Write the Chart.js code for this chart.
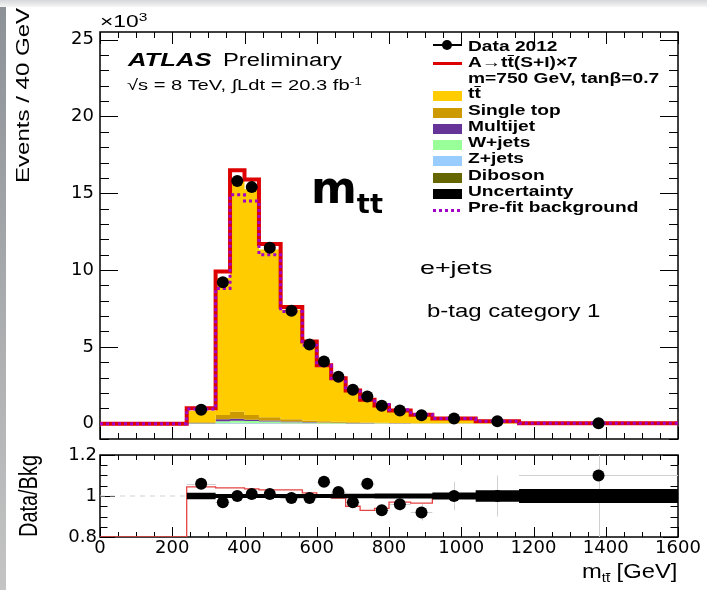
<!DOCTYPE html>
<html>
<head>
<meta charset="utf-8">
<title>m_tt, e+jets, b-tag category 1</title>
<script src="https://cdn.jsdelivr.net/npm/chart.js@4.4.1/dist/chart.umd.min.js"></script>
<style>
  html, body { margin: 0; padding: 0; }
  body { width: 707px; height: 590px; overflow: hidden; background: #fff; position: relative;
         font-family: "Liberation Sans", Arial, sans-serif; color: #000; }
  .edge-l { position: absolute; left: 0; top: 0; width: 6px; height: 590px; background: linear-gradient(#8c9196, #c4c4c4); }
  .edge-t { position: absolute; left: 0; top: 0; width: 707px; height: 7px; background: linear-gradient(#d5d8db, #f6f6f6); }
  canvas { position: absolute; left: 0; }
  #mainChart { top: 0; }
  #ratioChart { top: 445px; }
  .t { position: absolute; white-space: nowrap; line-height: 1; transform-origin: 0 0; }
  .ov { display: inline-block; border-top: 1.5px solid currentColor; line-height: 0.8; }
  sup { font-size: 0.68em; vertical-align: 0.5em; line-height: 0; }
  sub { font-size: 0.62em; vertical-align: -0.35em; line-height: 0; }
  .sym { position: absolute; }
  .box { position: absolute; left: 433px; width: 29px; height: 10px; }
</style>
</head>
<body>
<div class="edge-l"></div><div class="edge-t"></div>
<canvas id="mainChart" width="707" height="445"></canvas>
<canvas id="ratioChart" width="707" height="145"></canvas>

<!-- axis titles and labels -->
<div class="t" style="left:100px; top:12.6px; font-size:17px" data-w="47">×10<sup>3</sup></div>
<div class="t" style="left:14px; top:183px; font-size:18px" data-w="175" data-rot="1">Events / 40 GeV</div>
<div class="t" style="left:14.6px; top:537px; font-size:26px" data-w="82" data-rot="1">Data/Bkg</div>
<div class="t" style="left:582px; top:561px; font-size:20px" data-w="95">m<sub>t<span class="ov">t</span></sub> [GeV]</div>

<div class="t" style="left:128px; top:50.8px; font-size:18px; font-weight:bold; font-style:italic" data-w="84">ATLAS</div>
<div class="t" style="left:223px; top:50.8px; font-size:18px" data-w="119">Preliminary</div>
<div class="t" style="left:127px; top:77.3px; font-size:15px" data-w="235">√s = 8 TeV, ∫Ldt = 20.3 fb<sup>-1</sup></div>

<div class="t" style="left:311px; top:166px; font-size:44px; font-weight:bold; font-family:'DejaVu Sans'" data-w="72">m<sub>tt</sub></div>
<div class="t" style="left:420px; top:258px; font-size:19px" data-w="72">e+jets</div>
<div class="t" style="left:427px; top:301px; font-size:19px" data-w="173">b-tag category 1</div>

<!-- legend symbols -->
<div class="sym" style="left:433px; top:44px; width:29px; height:1.5px; background:#000"></div>
<div class="sym" style="left:442px; top:40px; width:10px; height:10px; border-radius:50%; background:#000"></div>
<div class="sym" style="left:433px; top:61.5px; width:29px; height:3px; background:#dd0000"></div>
<div class="box" style="top:91px; background:#ffcc00"></div>
<div class="box" style="top:107.5px; background:#cc9900"></div>
<div class="box" style="top:124px; background:#663399"></div>
<div class="box" style="top:140px; background:#99ff99"></div>
<div class="box" style="top:156px; background:#99ccff"></div>
<div class="box" style="top:172.5px; background:#666600"></div>
<div class="box" style="top:189px; background:#000"></div>
<div class="sym" style="left:433px; top:208.5px; width:29px; height:3px; background:repeating-linear-gradient(90deg, #a300c8 0 3px, transparent 3px 6px)"></div>

<!-- legend text -->
<div id="legendText" class="t" style="left:468px; top:0; font-size:15px; font-weight:bold">
  <div class="t" style="top:38.3px">Data 2012</div>
  <div class="t" style="top:53.8px">A→t<span class="ov">t</span>(S+I)×7</div>
  <div class="t" style="top:70.3px">m=750 GeV, tanβ=0.7</div>
  <div class="t" style="top:85.3px">t<span class="ov">t</span></div>
  <div class="t" style="top:101.8px">Single top</div>
  <div class="t" style="top:118.3px">Multijet</div>
  <div class="t" style="top:134.3px">W+jets</div>
  <div class="t" style="top:150.3px">Z+jets</div>
  <div class="t" style="top:166.8px">Diboson</div>
  <div class="t" style="top:183.3px">Uncertainty</div>
  <div class="t" id="prefitLabel" style="top:199.3px">Pre-fit background</div>
</div>

<script>
// bin edges in GeV (variable width), values in units of 10^3 events / 40 GeV
const binEdges = [240, 320, 360, 400, 440, 500, 560, 600, 640, 680, 720, 760, 800, 860, 920, 1040, 1160, 1600];
const dataVals = [0.9, 9.2, 15.8, 15.4, 11.45, 7.35, 5.15, 4.05, 3.05, 2.2, 1.77, 1.17, 0.85, 0.55, 0.33, 0.15, 0.03];
const ttbar = [0.75, 8.92, 15.03, 14.7, 10.92, 7.13, 5.0, 3.64, 2.87, 2.18, 1.6, 1.2, 0.85, 0.57, 0.31, 0.14, 0.025];
const singleTop = [0.05, 0.28, 0.45, 0.3, 0.22, 0.15, 0.1, 0.08, 0.06, 0.05, 0.04, 0.03, 0.02, 0.015, 0.01, 0.005, 0.001];
const multijet = [0.02, 0.12, 0.13, 0.09, 0.06, 0.04, 0.03, 0.02, 0.015, 0.01, 0.008, 0.006, 0.004, 0.003, 0.002, 0.001, 0.0002];
const wjets = [0.02, 0.12, 0.14, 0.12, 0.1, 0.07, 0.05, 0.04, 0.03, 0.025, 0.02, 0.015, 0.01, 0.008, 0.005, 0.003, 0.0006];
const zjets = [0.005, 0.03, 0.04, 0.035, 0.03, 0.02, 0.015, 0.01, 0.008, 0.006, 0.005, 0.004, 0.003, 0.002, 0.001, 0.0006, 0.0001];
const diboson = [0.002, 0.01, 0.01, 0.01, 0.008, 0.006, 0.004, 0.003, 0.003, 0.002, 0.002, 0.001, 0.001, 0.001, 0.0005, 0.0003, 0.0001];
const signalPlusBkg = [1.0, 9.9, 16.5, 15.9, 11.7, 7.6, 5.35, 3.8, 2.95, 2.15, 1.55, 1.18, 0.86, 0.58, 0.33, 0.15, 0.027];
const prefitBkg = [0.95, 8.8, 14.9, 14.5, 11.0, 7.3, 5.1, 3.8, 2.95, 2.2, 1.6, 1.25, 0.9, 0.6, 0.33, 0.15, 0.03];

// ratio panel
const ratioVals = [1.06, 0.97, 1.0, 1.01, 1.01, 0.99, 0.99, 1.07, 1.02, 0.97, 1.06, 0.93, 0.96, 0.92, 1.0, 1.0, 1.1];
const ratioErr = [0.03, 0.01, 0.008, 0.008, 0.009, 0.011, 0.013, 0.015, 0.018, 0.02, 0.024, 0.028, 0.033, 0.04, 0.07, 0.1, 0.35];
const ratioSignal = [1.045, 1.04, 1.04, 1.035, 1.03, 1.03, 1.015, 1.0, 0.99, 0.95, 0.93, 0.94, 0.97, 0.965, 1.0, 1.0, 1.0];
const uncHalf = [0.016, 0.01, 0.01, 0.01, 0.01, 0.01, 0.01, 0.01, 0.011, 0.011, 0.011, 0.012, 0.012, 0.012, 0.017, 0.028, 0.034];

const xTicks = [0, 200, 400, 600, 800, 1000, 1200, 1400, 1600];
const yMainTicks = [0, 5, 10, 15, 20, 25];
const yRatioTicks = [0.8, 1, 1.2];

const binCenters = binEdges.slice(0, -1).map((e, i) => (e + binEdges[i + 1]) / 2);

// histogram outline as {x,y} points; optional lead value from the axis start to the first edge
function steps(vals, lead) {
  const pts = [];
  if (lead !== undefined) {
    pts.push({ x: xTicks[0], y: lead });
    pts.push({ x: binEdges[0], y: lead });
  }
  vals.forEach((v, i) => {
    pts.push({ x: binEdges[i], y: v });
    pts.push({ x: binEdges[i + 1], y: v });
  });
  return pts;
}

// keep the plot frame exactly where the layout padding puts it
function noPad(s) {
  s.paddingTop = 0; s.paddingBottom = 0; s.paddingLeft = 0; s.paddingRight = 0;
}

// frame with ROOT style inward ticks on all four sides
const frameTicks = {
  id: 'frameTicks',
  beforeDatasetsDraw(chart, args, o) {
    const { ctx, chartArea: a, scales: { x, y } } = chart;
    ctx.save();
    ctx.strokeStyle = '#000';
    ctx.lineWidth = 1;
    ctx.beginPath();
    const eps = 1e-6;
    for (let n = Math.ceil(x.min / o.xMinor - eps); n <= Math.floor(x.max / o.xMinor + eps); n++) {
      const v = n * o.xMinor;
      const major = Math.abs(v / o.xMajor - Math.round(v / o.xMajor)) < eps;
      const len = major ? o.xLen : o.xLen / 2;
      const px = Math.round(x.getPixelForValue(v)) + 0.5;
      ctx.moveTo(px, a.bottom); ctx.lineTo(px, a.bottom - len);
      ctx.moveTo(px, a.top); ctx.lineTo(px, a.top + len);
    }
    for (let n = Math.ceil(y.min / o.yMinor - eps); n <= Math.floor(y.max / o.yMinor + eps); n++) {
      const v = n * o.yMinor;
      const major = Math.abs(v / o.yMajor - Math.round(v / o.yMajor)) < eps;
      const len = major ? o.yLen : o.yLen / 2;
      const py = Math.round(y.getPixelForValue(v)) + 0.5;
      ctx.moveTo(a.left, py); ctx.lineTo(a.left + len, py);
      ctx.moveTo(a.right, py); ctx.lineTo(a.right - len, py);
    }
    ctx.stroke();
    ctx.lineWidth = 1.5;
    ctx.strokeRect(a.left, a.top, a.width, a.height);
    ctx.restore();
  }
};
Chart.register(frameTicks);

Chart.defaults.font.family = "'DejaVu Sans', sans-serif";
Chart.defaults.font.size = 18;
Chart.defaults.color = '#000';

// stacked backgrounds, bottom to top
const stackParts = [
  { label: 'Diboson', vals: diboson, color: '#666600' },
  { label: 'Z+jets', vals: zjets, color: '#99ccff' },
  { label: 'W+jets', vals: wjets, color: '#99ff99' },
  { label: 'Multijet', vals: multijet, color: '#663399' },
  { label: 'Single top', vals: singleTop, color: '#cc9900' },
  { label: 'ttbar', vals: ttbar, color: '#ffcc00' }
];
let running = ttbar.map(() => 0);
const stackSets = stackParts.map((p, k) => {
  running = running.map((r, i) => r + p.vals[i]);
  return {
    label: p.label,
    data: steps(running),
    borderWidth: 0,
    backgroundColor: p.color,
    fill: k === 0 ? 'origin' : '-1',
    pointRadius: 0,
    order: 20 - k
  };
});

new Chart(document.getElementById('mainChart'), {
  type: 'line',
  data: {
    datasets: [
      ...stackSets,
      {
        label: 'A->tt(S+I)x7',
        data: steps(signalPlusBkg, 0),
        borderColor: '#dd0000',
        borderWidth: 4,
        pointRadius: 0,
        fill: false,
        order: 3
      },
      {
        label: 'Pre-fit background',
        data: steps(prefitBkg, 0),
        borderColor: '#a300c8',
        borderWidth: 3,
        borderDash: [3, 3],
        pointRadius: 0,
        fill: false,
        order: 2
      },
      {
        label: 'Data 2012',
        data: binCenters.map((c, i) => ({ x: c, y: dataVals[i] })),
        showLine: false,
        pointRadius: 6,
        pointBackgroundColor: '#000',
        pointBorderWidth: 0,
        order: 1
      }
    ]
  },
  options: {
    responsive: false,
    animation: false,
    devicePixelRatio: 1,
    events: [],
    layout: { padding: { left: 0, right: 29, top: 32, bottom: 5 } },
    plugins: {
      legend: { display: false },
      tooltip: { enabled: false },
      frameTicks: { xMajor: 200, xMinor: 50, xLen: 12, yMajor: 5, yMinor: 1, yLen: 18 }
    },
    scales: {
      x: { type: 'linear', display: false, min: xTicks[0], max: xTicks[xTicks.length - 1] },
      y: {
        min: -1,
        max: 25.5,
        afterFit(s) { s.width = 100; noPad(s); },
        afterBuildTicks(s) { s.ticks = yMainTicks.map(v => ({ value: v })); },
        grid: { display: false, drawTicks: false },
        border: { display: false },
        ticks: { padding: 6, callback: v => String(v) }
      }
    }
  }
});

// light grey error bars and the unity line in the ratio panel
const ratioExtras = {
  id: 'ratioExtras',
  beforeDatasetsDraw(chart) {
    const { ctx, chartArea: a, scales: { x, y } } = chart;
    ctx.save();
    ctx.beginPath();
    ctx.rect(a.left, a.top, a.width, a.height);
    ctx.clip();
    ctx.strokeStyle = '#d0d0d0';
    ctx.lineWidth = 1;
    ctx.setLineDash([5, 5]);
    ctx.beginPath();
    ctx.moveTo(a.left, y.getPixelForValue(1));
    ctx.lineTo(a.right, y.getPixelForValue(1));
    ctx.stroke();
    ctx.setLineDash([]);
    ctx.beginPath();
    ratioVals.forEach((v, i) => {
      const px = Math.round(x.getPixelForValue(binCenters[i])) + 0.5;
      const py = Math.round(y.getPixelForValue(v)) + 0.5;
      ctx.moveTo(x.getPixelForValue(binEdges[i]), py);
      ctx.lineTo(x.getPixelForValue(binEdges[i + 1]), py);
      ctx.moveTo(px, y.getPixelForValue(v - ratioErr[i]));
      ctx.lineTo(px, y.getPixelForValue(v + ratioErr[i]));
    });
    ctx.stroke();
    ctx.restore();
  }
};

new Chart(document.getElementById('ratioChart'), {
  type: 'line',
  data: {
    datasets: [
      {
        label: 'signal ratio',
        data: steps(ratioSignal, yRatioTicks[0]),
        borderColor: '#e64444',
        borderWidth: 1.3,
        pointRadius: 0,
        fill: false,
        order: 5
      },
      {
        label: 'unc low',
        data: steps(uncHalf.map(u => 1 - u)),
        borderWidth: 0,
        pointRadius: 0,
        fill: false,
        order: 4
      },
      {
        label: 'Uncertainty',
        data: steps(uncHalf.map(u => 1 + u)),
        borderWidth: 0,
        pointRadius: 0,
        backgroundColor: '#000',
        fill: '-1',
        order: 3
      },
      {
        label: 'Data/Bkg',
        data: binCenters.map((c, i) => ({ x: c, y: ratioVals[i] })),
        showLine: false,
        pointRadius: 6,
        pointBackgroundColor: '#000',
        pointBorderWidth: 0,
        order: 1
      }
    ]
  },
  plugins: [ratioExtras],
  options: {
    responsive: false,
    animation: false,
    devicePixelRatio: 1,
    events: [],
    layout: { padding: { left: 0, right: 29, top: 10, bottom: 23 } },
    plugins: {
      legend: { display: false },
      tooltip: { enabled: false },
      frameTicks: { xMajor: 200, xMinor: 50, xLen: 10, yMajor: 0.2, yMinor: 0.05, yLen: 15 }
    },
    scales: {
      x: {
        type: 'linear',
        min: xTicks[0],
        max: xTicks[xTicks.length - 1],
        afterFit(s) { s.height = 30; noPad(s); },
        afterBuildTicks(s) { s.ticks = xTicks.map(v => ({ value: v })); },
        grid: { display: false, drawTicks: false },
        border: { display: false },
        ticks: { padding: 1, maxRotation: 0, autoSkip: false, callback: v => String(v) }
      },
      y: {
        min: yRatioTicks[0],
        max: yRatioTicks[yRatioTicks.length - 1],
        afterFit(s) { s.width = 100; noPad(s); },
        afterBuildTicks(s) { s.ticks = yRatioTicks.map(v => ({ value: v })); },
        grid: { display: false, drawTicks: false },
        border: { display: false },
        ticks: { padding: 3, callback: v => String(+v.toFixed(1)) }
      }
    }
  }
});

// stretch the html labels to the widths they have in the reference
document.querySelectorAll('[data-w]').forEach(el => {
  const k = +el.dataset.w / el.offsetWidth;
  el.style.transform = (el.dataset.rot ? 'rotate(-90deg) ' : '') + 'scaleX(' + k + ')';
});
const legendText = document.getElementById('legendText');
const lk = 170 / document.getElementById('prefitLabel').offsetWidth;
legendText.style.transform = 'scaleX(' + lk + ')';
</script>
</body>
</html>
